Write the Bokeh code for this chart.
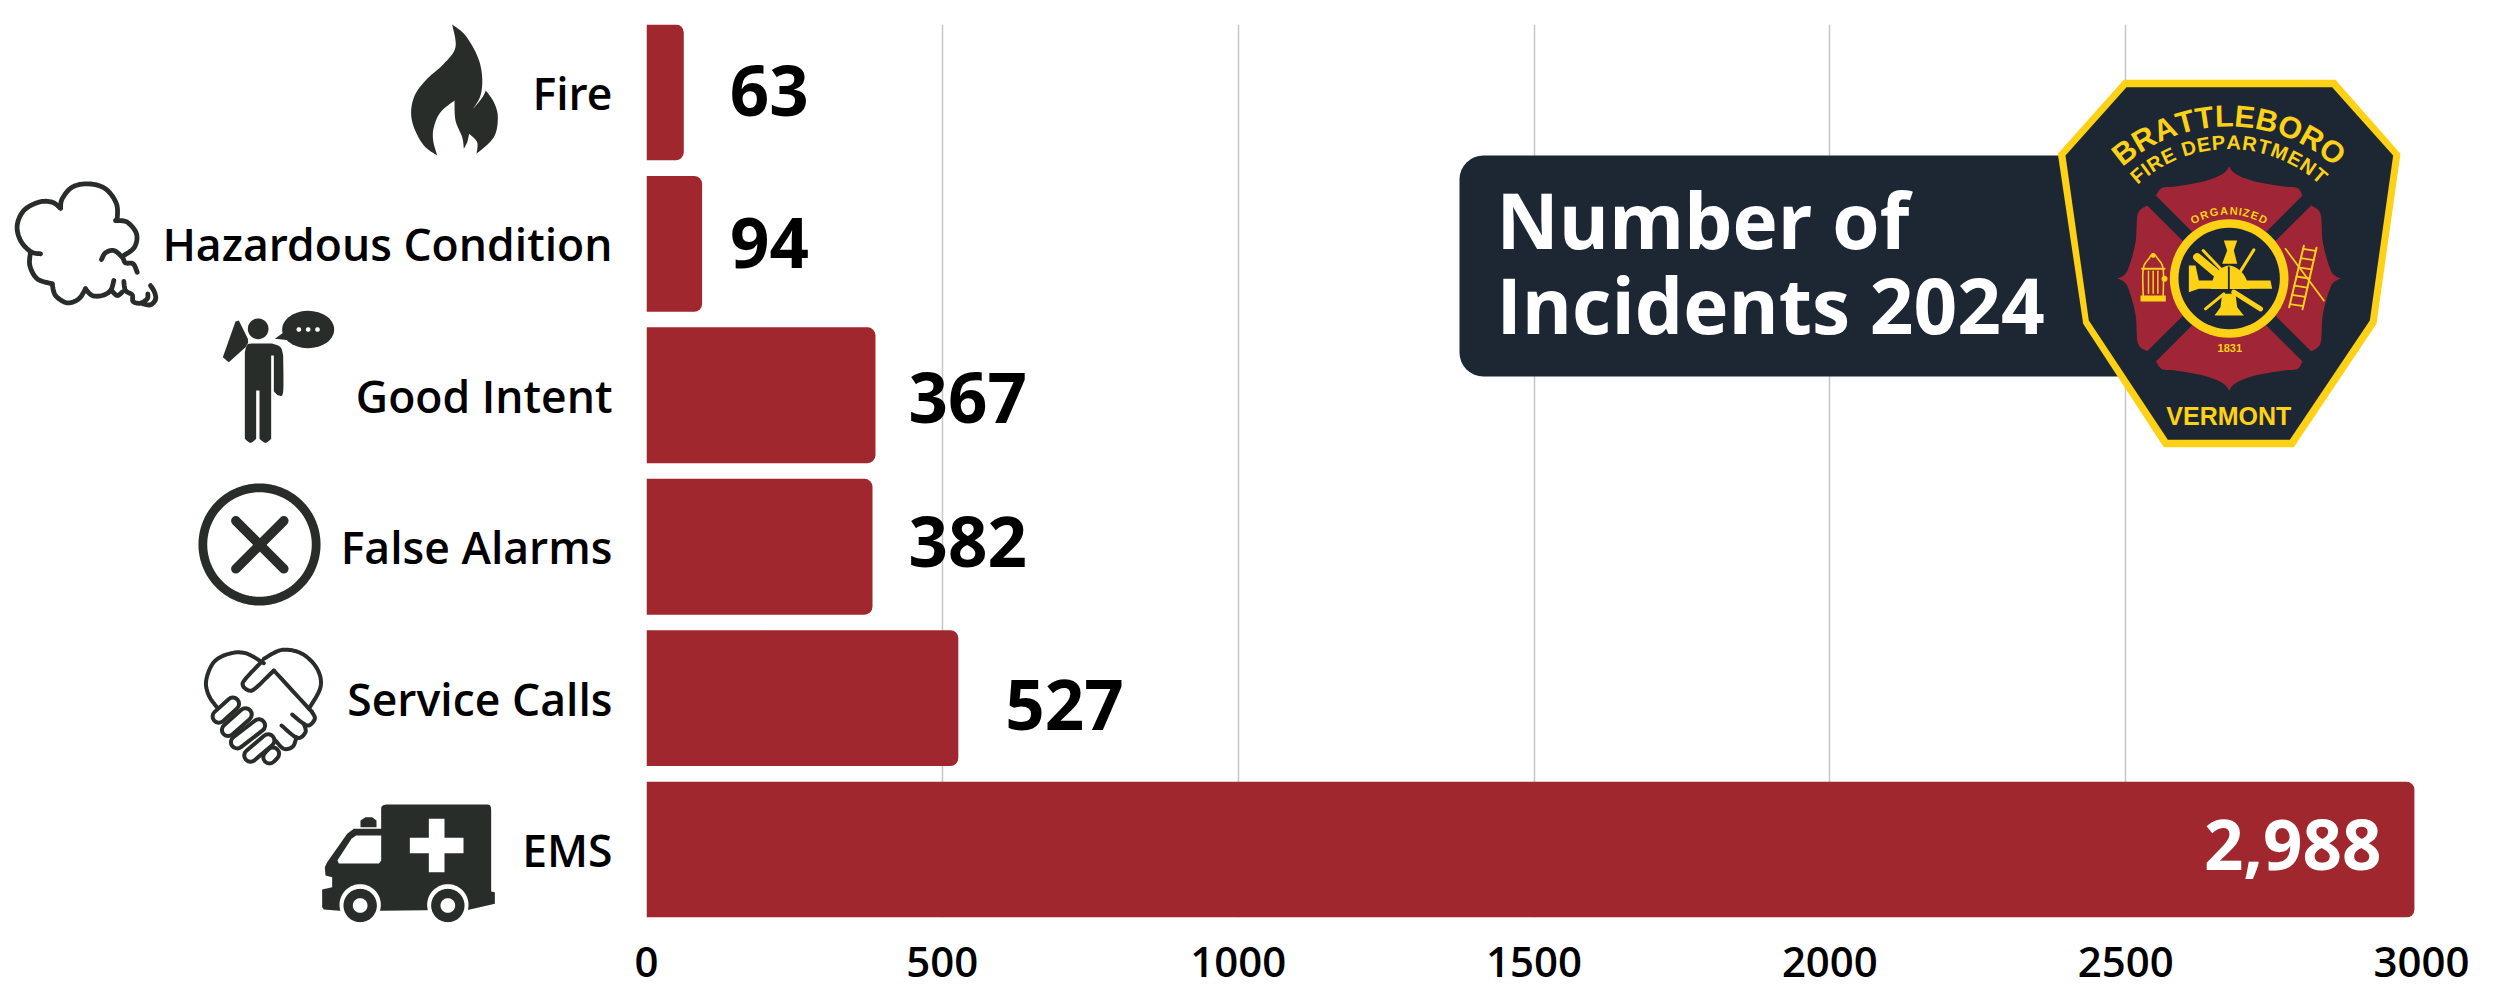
import numpy as np
from bokeh.plotting import figure
from bokeh.layouts import row
from bokeh.models import (ColumnDataSource, Range1d, FixedTicker)
from bokeh.core.properties import value
from bokeh.embed import file_html
from bokeh.resources import INLINE

categories = ["Fire", "Hazardous Condition", "Good Intent", "False Alarms", "Service Calls", "EMS"]
bar_values = [63, 94, 387, 382, 527, 2988]
value_labels = ["63", "94", "367", "382", "527", "2,988"]
x_ticks = [0, 500, 1000, 1500, 2000, 2500, 3000]

SEMI = "Open Sans SemiBold"
BOLD = "Open Sans"
INK = "#282d29"
NAVY = "#1d2733"
YEL = "#fdd116"
RED = "#a0272d"
LRED = "#a02537"
W, H = 2480, 990

p = figure(width=W, height=H, min_border_left=646, min_border_right=W - 2421,
           min_border_top=24, min_border_bottom=H - 917, output_backend="svg",
           toolbar_location=None, x_range=Range1d(0, 3000),
           y_range=Range1d(5.4485, -0.4485), frame_align=False)
p.outline_line_color = None
p.ygrid.visible = False
p.xgrid.grid_line_color = "#c6c6c6"
p.xgrid.grid_line_width = 1.5
p.xaxis.ticker = FixedTicker(ticks=x_ticks)
p.xaxis.axis_line_color = None
p.xaxis.major_tick_line_color = None
p.xaxis.minor_tick_line_color = None
p.xaxis.major_label_text_font = SEMI
p.xaxis.major_label_text_font_size = "42px"
p.xaxis.major_label_text_color = "#000000"
p.xaxis.major_label_standoff = 23
p.yaxis.ticker = FixedTicker(ticks=list(range(len(categories))))
p.yaxis.major_label_overrides = {i: c for i, c in enumerate(categories)}
p.yaxis.axis_line_color = None
p.yaxis.major_tick_line_color = None
p.yaxis.minor_tick_line_color = None
p.yaxis.major_label_text_font = SEMI
p.yaxis.major_label_text_font_size = "44.5px"
p.yaxis.major_label_text_color = "#000000"
p.yaxis.major_label_standoff = 28

ys = list(range(len(categories)))
src = ColumnDataSource(dict(y=ys, v=bar_values, t=value_labels,
                            dx=[46, 28, 33, 36, 47, -33], dy=[-2, -1, 2, -5, 6, -5]))
p.hbar(y="y", left=0, right="v", height=0.897, source=src, fill_color=RED, line_color=None,
       border_radius=(0, 8, 8, 0))
dark = ColumnDataSource({k: src.data[k][:5] for k in src.data})
lite = ColumnDataSource({k: src.data[k][5:] for k in src.data})
p.text(x="v", y="y", text="t", source=dark, x_offset="dx", y_offset="dy", text_font=value(BOLD),
       text_font_style="bold", text_font_size="69px", text_color="#000000", text_align="left",
       text_baseline="middle")
p.text(x="v", y="y", text="t", source=lite, x_offset="dx", y_offset="dy", text_font=value(BOLD),
       text_font_style="bold", text_font_size="69px", text_color="#ffffff", text_align="right",
       text_baseline="middle")

# transparent sheet over the whole page for the pictograms and the badge
d = figure(width=W, height=H, min_border=0, output_backend="svg", toolbar_location=None,
           x_range=Range1d(0, W), y_range=Range1d(H, 0), x_axis_location=None, y_axis_location=None,
           background_fill_color=None, border_fill_color=None, margin=(0, 0, 0, -W), frame_align=False)
d.grid.visible = False
d.outline_line_color = None


def smooth(pts, closed=False, n=8):
    P = np.array(pts, dtype=float)
    Q = np.vstack([P[-1], P, P[0], P[1]]) if closed else np.vstack([P[0], P, P[-1]])
    out = []
    for i in range(1, len(Q) - 2):
        a, b, c, e = Q[i - 1], Q[i], Q[i + 1], Q[i + 2]
        for t in np.linspace(0, 1, n, endpoint=False):
            out.append(0.5 * (2 * b + (c - a) * t + (2 * a - 5 * b + 4 * c - e) * t ** 2 + (3 * b - a - 3 * c + e) * t ** 3))
    if not closed:
        out.append(P[-1])
    return [tuple(o) for o in out]


class Pen:
    def __init__(self, ox, oy, s=1 / 3):
        self.ox, self.oy, self.s = ox, oy, s

    def tx(self, pts):
        return ([self.ox + x * self.s for x, _ in pts], [self.oy + y * self.s for _, y in pts])

    def fill(self, pts, color=INK):
        xs, ys_ = self.tx(pts)
        d.patch(xs, ys_, fill_color=color, line_color=None)

    def stroke(self, pts, w, color=INK):
        xs, ys_ = self.tx(pts)
        d.line(xs, ys_, line_color=color, line_width=w, line_join="round", line_cap="round")

    def disc(self, cx, cy, r, color=INK):
        a = np.linspace(0, 2 * np.pi, 73)[:-1]
        self.fill(list(zip(cx + r * np.cos(a), cy + r * np.sin(a))), color)

    def text(self, cx, cy, s, size, color=YEL, angle=0, font="Liberation Sans", style="bold", align="center"):
        xs, ys_ = self.tx([(cx, cy)])
        d.text([xs[0]], [ys_[0]], text=[s], text_font=value(font), text_font_style=style,
               text_font_size=f"{size}px", text_color=color, text_align=align, text_baseline="middle", angle=[angle])


# Fire
f = Pen(400, 20)
f.fill(smooth([(155, 12), (195, 45), (232, 110), (245, 170), (240, 225), (218, 265)]) +
       smooth([(218, 265), (245, 232), (256, 210)]) +
       smooth([(256, 210), (280, 245), (292, 290), (280, 350), (228, 400)]) +
       smooth([(228, 400), (230, 365), (206, 340)]) + smooth([(206, 340), (200, 365), (190, 385)]) +
       smooth([(190, 385), (185, 350), (165, 300), (162, 240)]) +
       smooth([(162, 240), (120, 275), (100, 320), (98, 360), (110, 405)]) +
       smooth([(110, 405), (70, 375), (40, 320), (32, 270), (45, 220), (80, 175), (130, 130), (165, 80), (155, 12)]))

# Smoke cloud
c = Pen(10, 175)
for seg in [[(90, 235), (60, 228), (30, 195), (20, 150), (40, 105), (85, 80), (125, 80), (150, 98)],
            [(150, 98), (155, 70), (185, 35), (235, 25), (285, 40), (318, 85), (320, 135)],
            [(315, 135), (350, 140), (378, 175), (372, 215), (340, 240)],
            [(273, 252), (285, 232), (310, 225), (335, 245), (345, 262), (368, 265), (380, 290)],
            [(60, 230), (58, 270), (80, 310), (125, 325)],
            [(125, 325), (135, 360), (170, 382), (205, 370), (225, 340)],
            [(225, 340), (245, 360), (275, 360), (300, 345), (310, 315)],
            [(303, 345), (320, 360), (335, 350)],
            [(340, 318), (345, 345), (365, 358), (368, 378), (390, 383), (410, 370), (412, 355)],
            [(420, 330), (432, 350), (435, 372), (420, 388), (398, 385)]]:
    c.stroke(smooth(seg), 4.8)

# Person on the phone
h = Pen(215, 305)
h.disc(128, 70, 31)
h.fill([(60, 48), (70, 45), (97, 100), (98, 112), (90, 125), (40, 170), (22, 155)])
h.fill(smooth([(88, 140), (95, 118), (110, 114)]) + smooth([(170, 114), (195, 125), (203, 150)]) +
       smooth([(203, 150), (203, 258), (190, 270), (175, 258)]) +
       [(175, 150), (167, 150)] + smooth([(167, 400), (150, 412), (132, 400)]) +
       [(132, 255), (122, 255)] + smooth([(122, 400), (105, 412), (88, 400)]))
a_ = np.linspace(0, 2 * np.pi, 60)
h.fill(list(zip(278 + 78 * np.cos(a_), 72 + 56 * np.sin(a_))))
h.fill([(205, 80), (178, 100), (228, 105)])
for dx_ in (250, 278, 306):
    h.disc(dx_, 72, 7, "#ffffff")

# False alarm cross
x_ = Pen(190, 475)
a_ = np.linspace(0, 2 * np.pi, 97)
x_.stroke(list(zip(207 + 170 * np.cos(a_), 207 + 170 * np.sin(a_))), 8.8)
x_.stroke([(136, 136), (280, 280)], 9.5)
x_.stroke([(280, 136), (136, 280)], 9.5)

# Handshake heart
s = Pen(195, 640)
for seg in [[(68, 205), (40, 165), (32, 120), (55, 65), (100, 40), (150, 38), (205, 68)],
            [(205, 55), (260, 28), (320, 40), (365, 85), (375, 140), (340, 205)],
            [(200, 62), (150, 115), (142, 135), (160, 150), (180, 143), (235, 90)],
            [(235, 90), (350, 215)],
            [(350, 215), (358, 235), (340, 255), (318, 245), (290, 222)],
            [(325, 250), (330, 275), (305, 292), (258, 255)],
            [(303, 290), (292, 318), (265, 325), (240, 300)]]:
    s.stroke(smooth(seg), 4)
for a0, b0 in [((232, 340), (222, 350)), ((218, 300), (165, 345)), ((190, 255), (125, 305)),
               ((150, 222), (98, 268)), ((112, 190), (70, 228))]:
    s.stroke([a0, b0], 16.5)
    s.stroke([a0, b0], 8.5, "#ffffff")

# Ambulance
m = Pen(315, 795)
m.fill(smooth([(197, 45), (199, 32), (212, 27)], n=4) + smooth([(515, 27), (524, 30), (527, 42)], n=4) +
       [(527, 288), (538, 290), (538, 325), (460, 343), (197, 346), (72, 346), (25, 342), (20, 335), (20, 282),
        (50, 275), (50, 245), (30, 240), (28, 215), (35, 200), (95, 115), (115, 100), (197, 100)])
m.fill([(135, 95), (135, 75), (150, 65), (170, 65), (183, 75), (183, 95)])
m.fill([(122, 120), (197, 120), (197, 196), (190, 204), (70, 204), (66, 194), (108, 130)], "#ffffff")
m.fill([(340, 70), (387, 70), (387, 127), (444, 127), (444, 173), (387, 173), (387, 230), (340, 230), (340, 173),
        (283, 173), (283, 127), (340, 127)], "#ffffff")
for cx in (134, 397):
    m.disc(cx, 328, 62, "#ffffff")
    m.disc(cx, 330, 50)
    m.disc(cx, 330, 22, "#ffffff")

# Title plate
d.quad(left=[1459], right=[2240], top=[155], bottom=[376], fill_color=NAVY, line_color=None,
       border_radius=(24, 0, 0, 24))
t_pen = Pen(0, 0, 1)
t_pen.text(1496, 218, "Number of", 76.5, "#ffffff", font=BOLD, align="left")
t_pen.text(1496, 303, "Incidents 2024", 76.5, "#ffffff", font=BOLD, align="left")

# Badge
b = Pen(2020, 60)
b.fill([(310, 58), (945, 58), (1140, 280), (1068, 790), (820, 1160), (430, 1160), (188, 790), (112, 280)], YEL)
b.fill([(318, 80), (935, 80), (1118, 285), (1048, 780), (808, 1138), (442, 1138), (205, 780), (135, 285)], NAVY)
CX, CY = 626, 654
top = smooth([(626, 318), (645, 340), (700, 362), (790, 378), (830, 382), (846, 405)]) + [(626, 625)] + \
      smooth([(406, 405), (425, 382), (465, 378), (552, 362), (607, 340), (626, 318)])
left = smooth([(292, 654), (320, 632), (345, 545), (352, 460), (380, 435)]) + [(600, 654)] + \
       smooth([(380, 872), (352, 848), (345, 762), (320, 676), (292, 654)])
b.fill(top, LRED)
b.fill(left, LRED)
b.fill([(2 * CX - x, y) for x, y in left], LRED)
b.fill([(x, 2 * CY - y) for x, y in top], LRED)
b.disc(CX, CY, 178, YEL)
b.disc(CX, CY, 152, NAVY)
# hydrant
b.fill([(360, 705), (436, 705), (436, 723), (360, 723)], YEL)
b.stroke(smooth([(368, 705), (368, 625), (385, 595), (398, 580), (412, 595), (428, 625), (428, 705)], n=4), 1.6, YEL)
b.stroke([(365, 625), (432, 625)], 2, YEL)
for hx in (384, 398, 412):
    b.stroke([(hx, 632), (hx, 698)], 1.5, YEL)
b.disc(432, 655, 9, YEL)
b.disc(398, 585, 7, YEL)
# ladder
b.stroke([(795, 565), (910, 720)], 1.8, YEL)
b.stroke([(850, 556), (806, 740)], 2, YEL)
b.stroke([(888, 562), (846, 746)], 2, YEL)
for t_ in np.linspace(0.05, 0.95, 7):
    b.stroke([(850 - 44 * t_, 556 + 184 * t_), (888 - 42 * t_, 562 + 184 * t_)], 1.8, YEL)
# centre emblem
b.fill([(610, 540), (650, 540), (640, 570), (650, 610), (605, 610), (620, 570)], YEL)
b.fill([(505, 615), (525, 615), (535, 660), (750, 660), (755, 685), (535, 685), (505, 695)], YEL)
b.fill(smooth([(570, 690), (585, 640), (626, 615), (668, 640), (690, 690)]) + [(570, 690)], YEL)
b.stroke([(560, 690), (700, 690)], 3, NAVY)
b.stroke([(625, 620), (625, 685)], 1.8, NAVY)
b.fill([(605, 700), (645, 700), (650, 740), (670, 765), (582, 765), (600, 740)], YEL)
b.stroke([(555, 745), (610, 700)], 3, YEL)
b.stroke([(655, 640), (700, 568)], 3, YEL)
b.stroke([(640, 695), (720, 745)], 5, YEL)
b.stroke([(530, 590), (590, 640)], 8, YEL)
b.stroke([(548, 570), (600, 625)], 3, YEL)

WIDTHS = dict(zip("BRATLEOFIDPMNGZ ", [.722, .722, .722, .611, .611, .667, .778, .611, .278, .722, .667, .833, .722, .778, .611, .278]))


def arc_text(t, cx, cy, r, size, spread):
    w = np.array([WIDTHS[ch] for ch in t])
    mid = np.cumsum(w) - w / 2
    mid = (mid - w.sum() / 2) / w.sum() * 2
    for ch, m_ in zip(t, mid):
        if ch == " ":
            continue
        ang = m_ * spread
        b.text(cx + r * np.sin(ang), cy - r * np.cos(ang), ch, size, YEL, -ang)


arc_text("BRATTLEBORO", 625, 675, 510, 30.5, np.radians(42))
arc_text("FIRE DEPARTMENT", 625, 668, 423, 20, np.radians(43))
arc_text("ORGANIZED", 625, 668, 218, 11, np.radians(32))
b.text(628, 863, "1831", 11)
b.text(625, 1065, "VERMONT", 25)

open("out.html", "w").write(file_html(row(p, d), INLINE))
